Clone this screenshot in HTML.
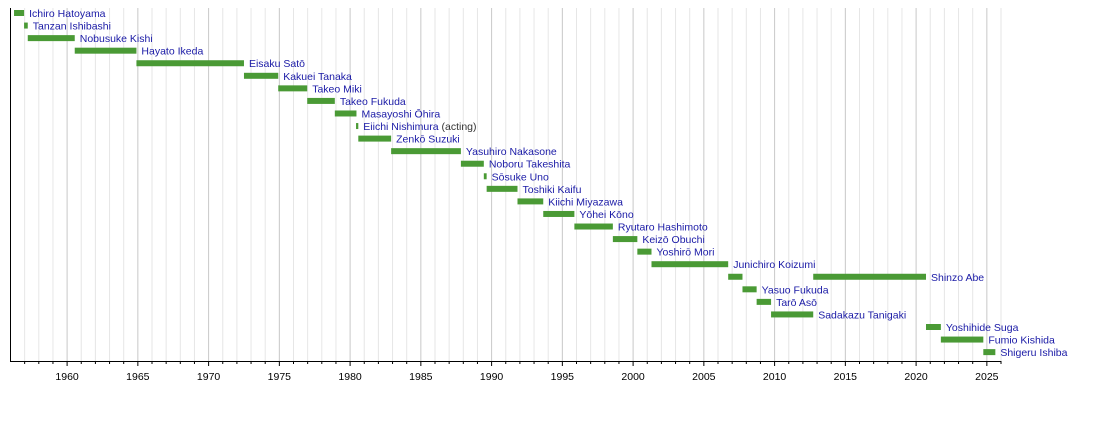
<!DOCTYPE html>
<html><head><meta charset="utf-8"><style>
html,body{margin:0;padding:0;background:#fff;width:1100px;height:441px;overflow:hidden}
svg text{font-family:"Liberation Sans",Arial,sans-serif}
</style></head><body>
<svg id="c" width="1100" height="441" xmlns="http://www.w3.org/2000/svg"></svg>
<script>
const X=y=>10.5+(y-1956)*14.15;
const rows=[
["Ichiro Hatoyama",[[1956.25,1956.96]]],
["Tanzan Ishibashi",[[1956.96,1957.22]]],
["Nobusuke Kishi",[[1957.22,1960.54]]],
["Hayato Ikeda",[[1960.54,1964.9]]],
["Eisaku Satō",[[1964.9,1972.5]]],
["Kakuei Tanaka",[[1972.5,1974.92]]],
["Takeo Miki",[[1974.92,1976.97]]],
["Takeo Fukuda",[[1976.97,1978.92]]],
["Masayoshi Ōhira",[[1978.92,1980.45]]],
["Eiichi Nishimura|(acting)",[[1980.42,1980.58]]],
["Zenkō Suzuki",[[1980.58,1982.9]]],
["Yasuhiro Nakasone",[[1982.9,1987.83]]],
["Noboru Takeshita",[[1987.83,1989.45]]],
["Sōsuke Uno",[[1989.45,1989.65]]],
["Toshiki Kaifu",[[1989.65,1991.83]]],
["Kiichi Miyazawa",[[1991.83,1993.65]]],
["Yōhei Kōno",[[1993.65,1995.85]]],
["Ryutaro Hashimoto",[[1995.85,1998.57]]],
["Keizō Obuchi",[[1998.57,2000.3]]],
["Yoshirō Mori",[[2000.3,2001.3]]],
["Junichiro Koizumi",[[2001.3,2006.72]]],
["Shinzo Abe",[[2006.72,2007.73],[2012.73,2020.7]]],
["Yasuo Fukuda",[[2007.73,2008.73]]],
["Tarō Asō",[[2008.73,2009.75]]],
["Sadakazu Tanigaki",[[2009.75,2012.73]]],
["Yoshihide Suga",[[2020.7,2021.75]]],
["Fumio Kishida",[[2021.75,2024.75]]],
["Shigeru Ishiba",[[2024.75,2025.6]]]
];
let s='';
for(let y=1957;y<=2026;y++){const x=X(y);s+=`<line x1="${x}" y1="8" x2="${x}" y2="361" stroke="${y%5?'#e6e6e6':'#c8c8c8'}" stroke-width="1"/>`;
s+=`<line x1="${x}" y1="361" x2="${x}" y2="${y%5?364:366}" stroke="#000"/>`;
if(y%5==0&&y<2026)s+=`<text x="${x}" y="380" font-size="10.5" text-anchor="middle" fill="#000">${y}</text>`;}
s+=`<line x1="10.5" y1="8" x2="10.5" y2="361.5" stroke="#000"/><line x1="10" y1="361.5" x2="${X(2026)}" y2="361.5" stroke="#000"/>`;
rows.forEach((r,i)=>{const cy=13+i*12.56;let end=0;
r[1].forEach(b=>{s+=`<rect x="${X(b[0])}" y="${cy-3}" width="${X(b[1])-X(b[0])}" height="6" fill="#4a9a35"/>`;end=X(b[1]);});
const [n,a]=r[0].split('|');
s+=`<text x="${end+5}" y="${cy+4}" font-size="10.5" fill="#1a1aa6">${n}${a?' <tspan fill="#333">'+a+'</tspan>':''}</text>`;});
document.getElementById('c').innerHTML=s;
</script>
</body></html>
